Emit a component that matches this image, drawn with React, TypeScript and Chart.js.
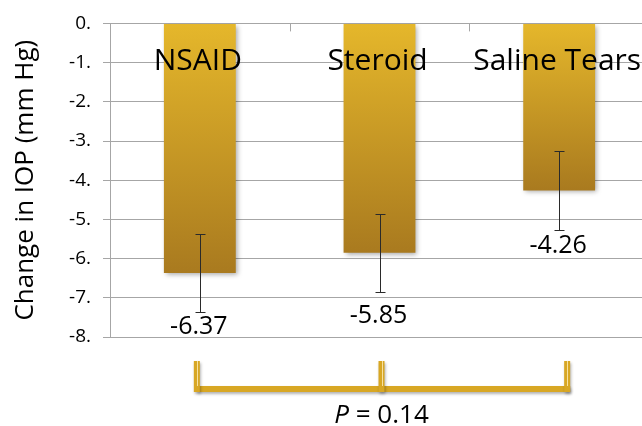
import React, { useEffect, useRef } from "react";
import { Chart, registerables } from "chart.js";

Chart.register(...registerables);

const categories = ["NSAID", "Steroid", "Saline Tears"];
const meanChange = [-6.37, -5.85, -4.26];
const errorSize = [1.0, 1.0, 1.0];
const valueLabels = ["-6.37", "-5.85", "-4.26"];
const yTickValues = [0, -1, -2, -3, -4, -5, -6, -7, -8];
const yTickLabels = ["0.", "-1.", "-2.", "-3.", "-4.", "-5.", "-6.", "-7.", "-8."];
const yAxisTitle = "Change in IOP (mm Hg)";
const pValueText = "0.14";

const FONT = "'Open Sans', sans-serif";
const GRID = "#a6a6a6";
const GOLD = "#d8a724";

// pixel tweaks for label placement (layout only)
const valueLabelOffsets = [54, 63, 55];
const bracketShift = [-3, 2, 8];

const overlay = {
  id: "overlay",
  beforeDatasetsDraw(chart: any) {
    const ctx = chart.ctx;
    ctx.save();
    ctx.shadowColor = "rgba(0,0,0,0.35)";
    ctx.shadowBlur = 5;
    ctx.shadowOffsetX = 2;
    ctx.shadowOffsetY = 2;
  },
  afterDatasetsDraw(chart: any) {
    const ctx = chart.ctx;
    ctx.restore();
    const xs = chart.scales.x;
    const ys = chart.scales.y;
    const area = chart.chartArea;

    // small tick marks on the top axis at category boundaries
    ctx.save();
    ctx.strokeStyle = GRID;
    ctx.lineWidth = 1;
    for (let i = 0; i < categories.length - 1; i++) {
      const bx = Math.round((xs.getPixelForValue(i) + xs.getPixelForValue(i + 1)) / 2) + 0.5;
      ctx.beginPath();
      ctx.moveTo(bx, area.top);
      ctx.lineTo(bx, area.top + 8);
      ctx.stroke();
    }
    ctx.restore();

    // error bars
    ctx.save();
    ctx.strokeStyle = "#2a2a2a";
    ctx.lineWidth = 1;
    meanChange.forEach((v, i) => {
      const cx = Math.round(xs.getPixelForValue(i)) + 0.5;
      const yTop = Math.round(ys.getPixelForValue(v + errorSize[i])) + 0.5;
      const yBot = Math.round(ys.getPixelForValue(v - errorSize[i])) + 0.5;
      ctx.beginPath();
      ctx.moveTo(cx, yTop);
      ctx.lineTo(cx, yBot);
      ctx.moveTo(cx - 5, yTop);
      ctx.lineTo(cx + 5, yTop);
      ctx.moveTo(cx - 5, yBot);
      ctx.lineTo(cx + 5, yBot);
      ctx.stroke();
    });
    ctx.restore();

    // category labels inside the plot
    ctx.save();
    ctx.fillStyle = "#000";
    ctx.font = `30px ${FONT}`;
    ctx.textAlign = "center";
    ctx.textBaseline = "middle";
    categories.forEach((c, i) => {
      ctx.fillText(c, xs.getPixelForValue(i) - 2, area.top + 38);
    });

    // value labels
    ctx.font = `25px ${FONT}`;
    meanChange.forEach((v, i) => {
      ctx.fillText(valueLabels[i], xs.getPixelForValue(i) - 1, ys.getPixelForValue(v) + valueLabelOffsets[i]);
    });
    ctx.restore();
  },
  afterDraw(chart: any) {
    const ctx = chart.ctx;
    const xs = chart.scales.x;
    const area = chart.chartArea;
    const top = area.bottom + 24;
    const bottom = area.bottom + 55;
    const hY = area.bottom + 52;
    const px = categories.map((_, i) => xs.getPixelForValue(i) + bracketShift[i]);

    ctx.save();
    ctx.shadowColor = "rgba(0,0,0,0.3)";
    ctx.shadowBlur = 3;
    ctx.shadowOffsetX = 1;
    ctx.shadowOffsetY = 2;
    ctx.fillStyle = GOLD;
    ctx.fillRect(px[0], hY - 3, px[px.length - 1] - px[0] + 3, 6);
    px.forEach((x) => {
      ctx.fillRect(x - 3, top, 6, bottom - top);
    });
    ctx.restore();
    ctx.save();
    ctx.strokeStyle = "rgba(255,240,190,0.8)";
    ctx.lineWidth = 1;
    px.forEach((x) => {
      ctx.beginPath();
      ctx.moveTo(Math.round(x) + 0.5, top);
      ctx.lineTo(Math.round(x) + 0.5, hY - 3);
      ctx.stroke();
    });
    ctx.restore();

    // P value text
    ctx.save();
    ctx.fillStyle = "#000";
    ctx.textBaseline = "alphabetic";
    const italic = `italic 26px ${FONT}`;
    const normal = `26px ${FONT}`;
    ctx.font = italic;
    const wP = ctx.measureText("P").width;
    ctx.font = normal;
    const rest = " = " + pValueText;
    const wR = ctx.measureText(rest).width;
    const cx = px[1];
    const startX = cx - (wP + wR) / 2;
    ctx.textAlign = "left";
    ctx.font = italic;
    ctx.fillText("P", startX, 423);
    ctx.font = normal;
    ctx.fillText(rest, startX + wP, 423);
    ctx.restore();
  },
};

export default function App() {
  const ref = useRef<HTMLCanvasElement | null>(null);

  useEffect(() => {
    if (!ref.current) return;
    const chart = new Chart(ref.current, {
      type: "bar",
      data: {
        labels: categories,
        datasets: [
          {
            data: meanChange,
            barPercentage: 0.4,
            categoryPercentage: 1,
            borderWidth: 0,
            backgroundColor: (c: any) => {
              const ch = c.chart;
              const area = ch.chartArea;
              if (!area || c.raw === undefined) return "#c9982a";
              const yEnd = ch.scales.y.getPixelForValue(c.raw);
              const g = ch.ctx.createLinearGradient(0, area.top, 0, yEnd);
              g.addColorStop(0, "#e5b72b");
              g.addColorStop(1, "#a97a1f");
              return g;
            },
          },
        ],
      },
      options: {
        responsive: false,
        animation: false,
        devicePixelRatio: 1,
        layout: { padding: { left: 0, top: 19, right: 0, bottom: 89 } },
        plugins: {
          legend: { display: false },
          tooltip: { enabled: false },
        },
        scales: {
          x: {
            display: false,
            offset: true,
          },
          y: {
            min: -8,
            max: 0,
            afterFit: (s: any) => {
              s.width = 110;
            },
            afterBuildTicks: (s: any) => {
              s.ticks = yTickValues.map((v) => ({ value: v }));
            },
            ticks: {
              padding: 12,
              color: "#000",
              font: { family: FONT, size: 19 },
              callback: (v: any) => {
                const idx = yTickValues.indexOf(Number(v));
                return idx >= 0 ? yTickLabels[idx] : "";
              },
            },
            grid: {
              color: GRID,
              lineWidth: 1,
              tickLength: 7,
              drawTicks: true,
            },
            border: { display: true, color: GRID },
            title: {
              display: true,
              text: yAxisTitle,
              color: "#000",
              font: { family: FONT, size: 26 },
              padding: { top: 10, bottom: 0 },
            },
          },
        },
      },
      plugins: [overlay],
    });
    return () => chart.destroy();
  }, []);

  return (
    <div
      style={{
        position: "fixed",
        left: 0,
        top: 0,
        width: 642,
        height: 426,
        overflow: "hidden",
        background: "#fff",
      }}
    >
      <canvas ref={ref} width={649} height={426} style={{ display: "block", width: 649, height: 426 }} />
    </div>
  );
}
